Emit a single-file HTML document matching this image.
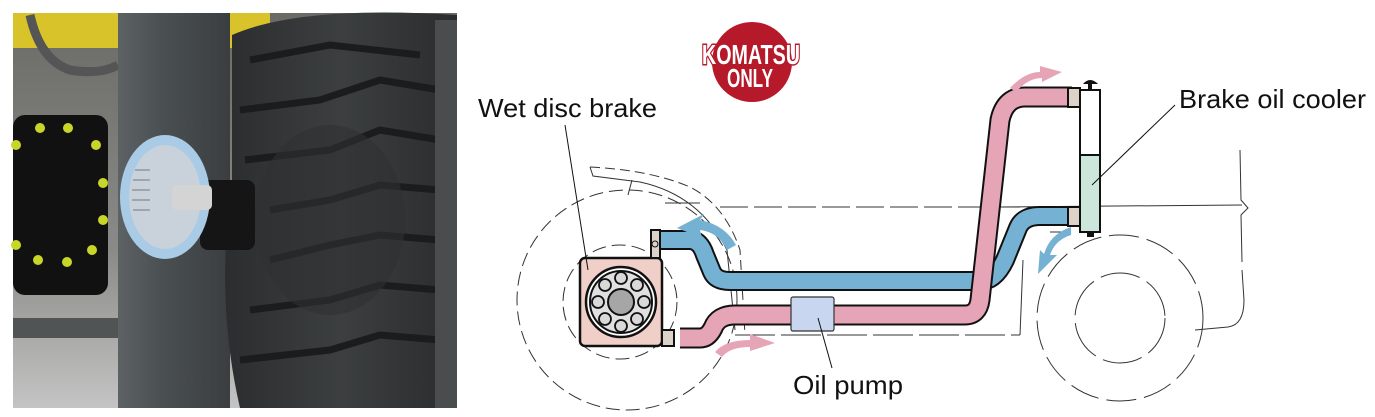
<!DOCTYPE html>
<html><head><style>
html,body{margin:0;padding:0;background:#fff;width:1375px;height:417px;overflow:hidden}
text{font-family:"Liberation Sans",sans-serif}
</style></head><body>
<svg width="1375" height="417" viewBox="0 0 1375 417" xmlns="http://www.w3.org/2000/svg">
<defs>
<linearGradient id="bg" x1="0" y1="0" x2="0" y2="1">
<stop offset="0" stop-color="#6a6a66"/><stop offset="0.6" stop-color="#8a8a88"/><stop offset="1" stop-color="#c4c4c4"/></linearGradient>
<linearGradient id="col" x1="0" y1="0" x2="1" y2="0">
<stop offset="0" stop-color="#5d6265"/><stop offset="0.4" stop-color="#4a4f52"/><stop offset="1" stop-color="#3a3e40"/></linearGradient>
<linearGradient id="tire" x1="0" y1="0" x2="1" y2="0">
<stop offset="0" stop-color="#2b2d2e"/><stop offset="0.5" stop-color="#3c3f40"/><stop offset="1" stop-color="#2a2c2d"/></linearGradient>
</defs>
<!-- photo -->
<rect x="13" y="13" width="444" height="395" fill="url(#bg)"/>
<rect x="13" y="13" width="105" height="35" fill="#d8c32a"/>
<rect x="230" y="13" width="40" height="35" fill="#d8c32a"/>
<path d="M30 15 Q40 60 70 70 Q100 75 118 65" stroke="#555" stroke-width="9" fill="none"/>
<rect x="13" y="318" width="105" height="20" fill="#505454"/>
<rect x="13" y="115" width="95" height="180" rx="12" fill="#111"/>
<g fill="#c8d62a">
<circle cx="40" cy="128" r="5"/><circle cx="68" cy="128" r="5"/><circle cx="96" cy="145" r="5"/><circle cx="103" cy="183" r="5"/><circle cx="103" cy="220" r="5"/><circle cx="92" cy="250" r="5"/><circle cx="67" cy="262" r="5"/><circle cx="38" cy="260" r="5"/><circle cx="16" cy="245" r="5"/><circle cx="16" cy="145" r="5"/>
</g>
<rect x="118" y="13" width="112" height="395" fill="url(#col)"/>
<path d="M232 35 Q300 5 457 15 L457 408 L240 408 Q215 300 232 180 Z" fill="url(#tire)"/>
<g stroke="#1b1c1d" stroke-width="7" fill="none">
<path d="M250 60 L330 45 L420 55"/><path d="M240 110 L320 100 L380 80 L440 90"/><path d="M245 160 L330 150 L380 130 L440 140"/><path d="M270 210 L330 200 L380 185 L440 190"/><path d="M270 260 L330 245 L380 235 L440 240"/><path d="M250 310 L330 300 L380 285 L440 290"/><path d="M240 360 L330 350 L380 335 L440 340"/>
</g>
<rect x="435" y="20" width="22" height="388" fill="#4a4d4e"/>
<ellipse cx="330" cy="220" rx="75" ry="95" fill="#2f3132" opacity="0.6"/>
<rect x="200" y="180" width="55" height="70" rx="8" fill="#151515"/>
<ellipse cx="165" cy="197" rx="45" ry="62" fill="#a9cbe6"/>
<ellipse cx="165" cy="197" rx="36" ry="52" fill="#c9d2da"/>
<g stroke="#9ea5ab" stroke-width="2"><line x1="135" y1="170" x2="150" y2="170"/><line x1="133" y1="180" x2="150" y2="180"/><line x1="132" y1="190" x2="150" y2="190"/><line x1="132" y1="200" x2="150" y2="200"/><line x1="133" y1="210" x2="150" y2="210"/></g>
<rect x="172" y="185" width="40" height="25" rx="5" fill="#d4d4d4"/>
<!-- badge -->
<circle cx="752" cy="62" r="40" fill="#b5192a"/>
<text x="702" y="64" font-size="28" font-weight="bold" fill="#fff" stroke="#b5192a" stroke-width="3" paint-order="stroke" textLength="98" lengthAdjust="spacingAndGlyphs">KOMATSU</text>
<text x="727" y="87" font-size="26" font-weight="bold" fill="#fff" stroke="#b5192a" stroke-width="2" paint-order="stroke" textLength="46" lengthAdjust="spacingAndGlyphs">ONLY</text>
<!-- body outlines -->
<g fill="none" stroke="#333" stroke-width="1">
<circle cx="627" cy="300" r="110" stroke-dasharray="14 6"/>
<circle cx="620" cy="302" r="57" stroke-dasharray="14 6"/>
<path d="M590 167 L593 176 L640 182 Q700 195 727 250 L735 330"/>
<path d="M590 167 Q650 170 690 187 Q725 205 740 250 L745 335" stroke-dasharray="10 5"/>
<line x1="632" y1="180" x2="628" y2="195"/>
<line x1="665" y1="203" x2="700" y2="203"/>
<line x1="720" y1="207" x2="1080" y2="207" stroke-dasharray="28 6"/>
<line x1="1000" y1="207" x2="1242" y2="205"/>
<path d="M1240 150 L1241 200 L1248 208 L1241 215 L1242 262 M1242 270 L1244 300 Q1244 325 1228 327 L1195 330"/>
<line x1="735" y1="335" x2="1020" y2="335" stroke-dasharray="40 6"/>
<line x1="1020" y1="335" x2="1023" y2="260"/>
<circle cx="1120" cy="318" r="83" stroke-dasharray="30 8"/>
<circle cx="1120" cy="318" r="45" stroke-dasharray="40 8"/>
<line x1="1050" y1="232" x2="1062" y2="232"/>
</g>
<!-- pipes -->
<path d="M660 240 L690 240 Q700 240 705 255 L712 272 Q716 281 730 281 L980 281 Q995 281 1005 260 L1018 228 Q1023 216 1040 216 L1075 216" fill="none" stroke="#111" stroke-width="20"/>
<path d="M660 240 L690 240 Q700 240 705 255 L712 272 Q716 281 730 281 L980 281 Q995 281 1005 260 L1018 228 Q1023 216 1040 216 L1075 216" fill="none" stroke="#75b1d3" stroke-width="16"/>
<path d="M680 338 L700 338 Q708 338 713 328 Q718 315 735 315 L965 315 Q978 315 980 300 L1000 120 Q1005 97 1025 97 L1072 97" fill="none" stroke="#111" stroke-width="21"/>
<path d="M680 338 L700 338 Q708 338 713 328 Q718 315 735 315 L965 315 Q978 315 980 300 L1000 120 Q1005 97 1025 97 L1072 97" fill="none" stroke="#e6a4b7" stroke-width="17"/>
<!-- pump -->
<rect x="791" y="297" width="43" height="34" rx="2" fill="#c8d7ef" stroke="#333" stroke-width="1.2"/>
<!-- brake -->
<rect x="580" y="258" width="82" height="88" rx="5" fill="#f0cfc8" stroke="#111" stroke-width="2.5"/>
<circle cx="621" cy="302" r="35" fill="#fff" stroke="#111" stroke-width="2.5"/>
<circle cx="621" cy="302" r="31" fill="#e0e0e0" stroke="#111" stroke-width="2"/>
<circle cx="621" cy="302" r="13" fill="#a6a6a6" stroke="#111" stroke-width="2"/>
<g fill="#d9d9d9" stroke="#111" stroke-width="1.8">
<circle cx="621" cy="278" r="6"/><circle cx="637" cy="285" r="6"/><circle cx="644" cy="302" r="6"/><circle cx="637" cy="319" r="6"/><circle cx="621" cy="326" r="6"/><circle cx="605" cy="319" r="6"/><circle cx="598" cy="302" r="6"/><circle cx="605" cy="285" r="6"/>
</g>
<rect x="651" y="230" width="9" height="28" fill="#ddd2c8" stroke="#111" stroke-width="2"/>
<circle cx="655" cy="244" r="3" fill="none" stroke="#111"/>
<rect x="662" y="330" width="12" height="16" fill="#ddd2c8" stroke="#111" stroke-width="2"/>
<!-- cooler -->
<rect x="1068" y="88" width="12" height="19" fill="#ddd2c8" stroke="#111" stroke-width="2"/>
<rect x="1068" y="207" width="12" height="19" fill="#ddd2c8" stroke="#111" stroke-width="2"/>
<rect x="1080" y="90" width="20" height="65" fill="#fff" stroke="#111" stroke-width="2"/>
<rect x="1080" y="155" width="20" height="77" fill="#cce6dc" stroke="#111" stroke-width="2"/>
<path d="M1083 84 Q1090 76 1098 84 Z" fill="#111"/>
<rect x="1088" y="84" width="4" height="6" fill="#111"/>
<rect x="1087" y="232" width="7" height="5" fill="#111"/>
<!-- arrows -->
<path d="M736 245 Q725 225 700 220 L704 214 L677 228 L702 238 L700 230 Q718 232 727 250 Z" fill="#75b1d3"/>
<path d="M715 352 Q725 340 750 340 L750 334 L775 343 L750 351 L750 347 Q730 347 722 357 Z" fill="#e6a4b7"/>
<path d="M1010 88 Q1025 72 1040 72 L1040 66 L1062 72 L1042 82 L1042 78 Q1028 78 1016 92 Z" fill="#e6a4b7"/>
<path d="M1071 235 Q1055 240 1050 255 L1057 255 L1038 274 L1040 250 L1044 254 Q1050 234 1071 227 Z" fill="#75b1d3"/>
<!-- leaders -->
<g stroke="#111" stroke-width="1" fill="none">
<line x1="565" y1="125" x2="588" y2="270"/>
<line x1="1175" y1="105" x2="1092" y2="185"/>
<line x1="818" y1="318" x2="832" y2="368"/>
</g>
<text x="478" y="117" font-size="26" fill="#111" textLength="179" lengthAdjust="spacingAndGlyphs">Wet disc brake</text>
<text x="1179" y="108" font-size="26" fill="#111" textLength="187" lengthAdjust="spacingAndGlyphs">Brake oil cooler</text>
<text x="793" y="394" font-size="26" fill="#111" textLength="110" lengthAdjust="spacingAndGlyphs">Oil pump</text>
</svg>
</body></html>
